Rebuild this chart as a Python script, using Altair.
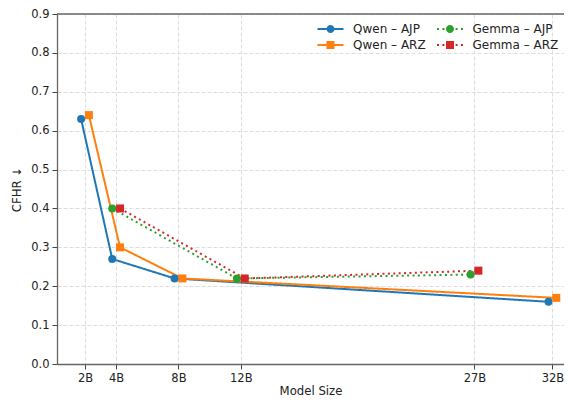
import altair as alt
import pandas as pd

# ---- data ----
qwen_sizes = [2, 4, 8, 32]
qwen_ajp = [0.63, 0.27, 0.22, 0.16]
qwen_arz = [0.64, 0.30, 0.22, 0.17]
gemma_sizes = [4, 12, 27]
gemma_ajp = [0.40, 0.22, 0.23]
gemma_arz = [0.40, 0.22, 0.24]

x_ticks = [2, 4, 8, 12, 27, 32]
y_ticks = [0.0, 0.1, 0.2, 0.3, 0.4, 0.5, 0.6, 0.7, 0.8, 0.9]

series_order = ["Qwen – AJP", "Qwen – ARZ", "Gemma – AJP", "Gemma – ARZ"]
series_colors = ["#1f77b4", "#ff7f0e", "#2ca02c", "#d62728"]
series_dash = [[1, 0], [1, 0], [2, 3.4], [2, 3.4]]

rows = []
for s, v in zip(qwen_sizes, qwen_ajp):
    rows.append({"size": s, "cfhr": v, "series": "Qwen – AJP"})
for s, v in zip(qwen_sizes, qwen_arz):
    rows.append({"size": s, "cfhr": v, "series": "Qwen – ARZ"})
for s, v in zip(gemma_sizes, gemma_ajp):
    rows.append({"size": s, "cfhr": v, "series": "Gemma – AJP"})
for s, v in zip(gemma_sizes, gemma_arz):
    rows.append({"size": s, "cfhr": v, "series": "Gemma – ARZ"})
df = pd.DataFrame(rows)

W, H = 507, 350
FONT = "DejaVu Sans"

# ---- legend symbol paths (line sample + marker), in units of 7 px ----
U = 7.0


def rect(x0, x1, y0, y1):
    return "M{:.3f},{:.3f}H{:.3f}V{:.3f}H{:.3f}Z".format(x0 / U, y0 / U, x1 / U, y1 / U, x0 / U)


solid_line = rect(-13, 13, -1, 1)
dotted_line = "".join(rect(x, x + 2, -1, 1) for x in [-13, -7.6, 5.6, 11])
circle_m = "M{r:.3f},0A{r:.3f},{r:.3f},0,1,1,{n:.3f},0A{r:.3f},{r:.3f},0,1,1,{r:.3f},0Z".format(
    r=4 / U, n=-4 / U
)
square_m = rect(-4, 4, -4, 4)
legend_shapes = [
    solid_line + circle_m,
    solid_line + square_m,
    dotted_line + circle_m,
    dotted_line + square_m,
]

base = alt.Chart(df).transform_calculate(
    xpos="datum.size + (indexof(datum.series, 'AJP') >= 0 ? -0.25 : 0.25)"
)

x_enc = alt.X(
    "xpos:Q",
    scale=alt.Scale(domain=[0.203, 32.745], nice=False, zero=False),
    axis=alt.Axis(values=x_ticks, labelExpr="datum.value + 'B'", title="Model Size",
                  titleY=30, titleBaseline="alphabetic"),
)
y_enc = alt.Y(
    "cfhr:Q",
    scale=alt.Scale(domain=[0, 0.9], nice=False),
    axis=alt.Axis(values=y_ticks, format=".1f", title="CFHR ↓",
                  titleX=-41, titleBaseline="middle"),
)

color_scale = alt.Scale(domain=series_order, range=series_colors)
dash_scale = alt.Scale(domain=series_order, range=series_dash)

legend = alt.Legend(
    title=None,
    orient="none",
    legendX=266.5,
    legendY=8,
    direction="vertical",
    columns=2,
    columnPadding=10.5,
    rowPadding=3,
    symbolSize=196,
    symbolStrokeWidth=0,
    symbolOpacity=1,
    labelOffset=15.5,
    labelFontSize=12,
    labelFont=FONT,
    labelColor="#222222",
    padding=0,
)

color_enc = alt.Color("series:N", scale=color_scale, legend=legend)

legend_layer = base.transform_filter("false").mark_point(
    filled=True, size=196, strokeWidth=0
).encode(
    x=x_enc,
    y=y_enc,
    color=color_enc,
    shape=alt.Shape("series:N", scale=alt.Scale(domain=series_order, range=legend_shapes), legend=legend),
)

lines = base.mark_line(strokeWidth=2).encode(
    x=x_enc,
    y=y_enc,
    color=color_enc,
    strokeDash=alt.StrokeDash("series:N", scale=dash_scale, legend=None),
)

ajp_points = base.transform_filter("indexof(datum.series, 'AJP') >= 0").mark_circle(
    size=64, opacity=1
).encode(x=x_enc, y=y_enc, color=color_enc)

arz_points = base.transform_filter("indexof(datum.series, 'ARZ') >= 0").mark_square(
    size=64, opacity=1
).encode(x=x_enc, y=y_enc, color=color_enc)

top_spine = alt.Chart(alt.Data(values=[{}])).mark_rule(
    color="#666666", strokeWidth=1.3
).encode(x=alt.value(0), x2=alt.value(W), y=alt.value(0))

chart = (
    alt.layer(legend_layer, lines, ajp_points, arz_points, top_spine)
    .properties(
        width=W,
        height=H,
        autosize=alt.AutoSizeParams(type="none"),
        padding={"left": 49, "top": 6, "right": 0, "bottom": 33},
        background="white",
    )
    .configure_view(strokeOpacity=0)
    .configure_axis(
        labelFont=FONT,
        titleFont=FONT,
        labelFontSize=11.5,
        titleFontSize=11.7,
        titleFontWeight="normal",
        labelColor="#222222",
        titleColor="#222222",
        domainColor="#666666",
        domainWidth=1.3,
        tickColor="#444444",
        tickSize=5,
        tickWidth=1,
        grid=True,
        gridColor="#dddddd",
        gridDash=[4, 2],
        gridWidth=1,
    )
    .configure_axisX(labelPadding=3)
    .configure_axisY(labelPadding=3)
)

chart.save("out.html", embed_options={"renderer": "svg", "actions": False})
